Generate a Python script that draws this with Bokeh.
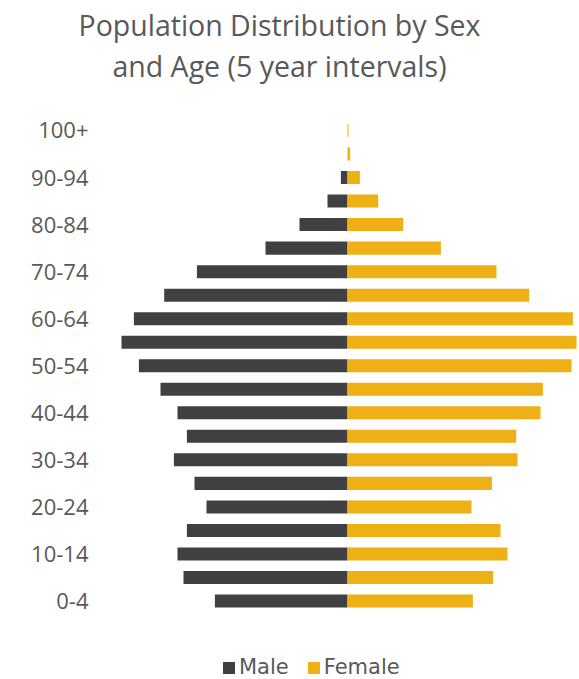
from bokeh.plotting import figure
from bokeh.models import ColumnDataSource, FixedTicker, Label, Legend, LegendItem, Range1d
from bokeh.embed import file_html
from bokeh.resources import INLINE

# ---- data (bottom to top) ----
age_groups = ["0-4", "5-9", "10-14", "15-19", "20-24", "25-29", "30-34", "35-39",
              "40-44", "45-49", "50-54", "55-59", "60-64", "65-69", "70-74",
              "75-79", "80-84", "85-89", "90-94", "95-99", "100+"]
male = [132.6, 164.0, 170.0, 160.6, 141.0, 153.0, 173.6, 160.6, 170.0, 187.0,
        208.6, 226.0, 213.6, 183.3, 150.6, 82.0, 48.0, 20.0, 6.6, 0.0, 0.0]
female = [125.4, 145.7, 160.0, 153.0, 124.0, 144.4, 170.0, 168.7, 193.0, 195.4,
          224.0, 229.0, 225.4, 181.7, 149.0, 93.4, 55.7, 30.7, 12.4, 2.7, 1.0]
title_lines = ["Population Distribution by Sex", "and Age (5 year intervals)"]
series_names = ["Male", "Female"]

MALE_C = "#404042"
FEMALE_C = "#EEB014"
TEXT_C = "#595959"

idx = list(range(len(age_groups)))
src = ColumnDataSource(dict(
    y=idx,
    male_left=[-v for v in male],
    zero=[0] * len(idx),
    female=female,
))

p = figure(width=579, height=679, output_backend="svg", toolbar_location=None,
           x_range=Range1d(-277.0, 232.0), y_range=Range1d(-3.337, 25.526),
           min_border_left=70, min_border_right=0, min_border_top=0, min_border_bottom=0)

r_m = p.hbar(y="y", left="male_left", right="zero", height=0.553, source=src,
             fill_color=MALE_C, line_color=None)
r_f = p.hbar(y="y", left="zero", right="female", height=0.553, source=src,
             fill_color=FEMALE_C, line_color=None)

p.xaxis.visible = False
p.xgrid.visible = False
p.ygrid.visible = False
p.outline_line_color = None

ya = p.yaxis[0]
ticks = idx[::2]
ya.ticker = FixedTicker(ticks=ticks)
ya.major_label_overrides = {i: age_groups[i] for i in ticks}
ya.axis_line_color = None
ya.major_tick_line_color = None
ya.minor_tick_line_color = None
ya.major_tick_out = 0
ya.major_tick_in = 0
ya.major_label_standoff = -18
ya.major_label_text_font = "Open Sans"
ya.major_label_text_font_size = "22px"
ya.major_label_text_color = TEXT_C

for txt, yy in zip(title_lines, [655, 614]):
    p.add_layout(Label(x=209, y=yy, x_units="screen", y_units="screen", text=txt,
                       text_align="center", text_baseline="alphabetic",
                       text_font="Open Sans", text_font_size="28.5px",
                       text_color=TEXT_C))

legend = Legend(items=[LegendItem(label=series_names[0], renderers=[r_m]),
                       LegendItem(label=series_names[1], renderers=[r_f])],
                orientation="horizontal", location=(151, 0),
                padding=0, margin=0, spacing=17, glyph_width=15, glyph_height=15,
                label_standoff=3, border_line_color=None, background_fill_alpha=0,
                label_text_font="DejaVu Sans", label_text_font_size="21px",
                label_text_color=TEXT_C, label_height=15)
p.add_layout(legend, "center")

open("out.html", "w").write(file_html(p, INLINE))
